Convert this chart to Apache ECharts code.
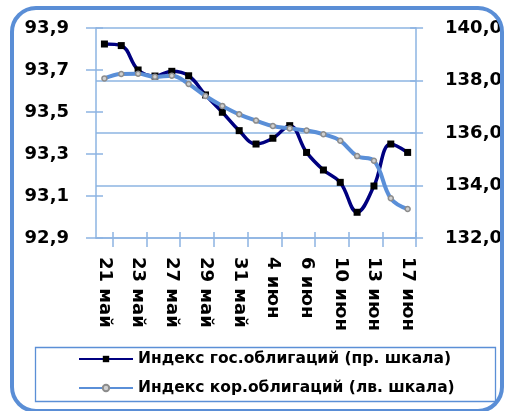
<!DOCTYPE html>
<html>
<head>
<meta charset="utf-8">
<script src="https://cdn.jsdelivr.net/npm/echarts@6/dist/echarts.min.js"></script>
<style>
html,body{margin:0;padding:0;background:#fff;}
#chart{width:505px;height:411px;}
</style>
</head>
<body>
<div id="chart"></div>
<script>
// Data
const categories = ['21 май','22 май','23 май','24 май','27 май','28 май','29 май','30 май','31 май','3 июн','4 июн','5 июн','6 июн','7 июн','10 июн','11 июн','13 июн','14 июн','17 июн'];
const govBonds = [139.39,139.33,138.40,138.17,138.35,138.18,137.45,136.79,136.09,135.58,135.80,136.28,135.26,134.59,134.12,132.98,133.98,135.58,135.26];
const corpBonds = [93.660,93.681,93.682,93.668,93.673,93.633,93.576,93.529,93.489,93.459,93.433,93.422,93.412,93.394,93.363,93.290,93.268,93.089,93.038];
const govName = 'Индекс гос.облигаций (пр. шкала)';
const corpName = 'Индекс кор.облигаций (лв. шкала)';
const leftAxis = {min: 92.9, max: 93.9, interval: 0.2};
const rightAxis = {min: 132, max: 140, interval: 2};

const FONT = 'DejaVu Sans';
const gridColor = '#8db4e2';
const fmt = v => Number(v).toFixed(1).replace('.', ',');

const chart = echarts.init(document.getElementById('chart'), null, {renderer: 'canvas'});
const grid = {left: 96, right: 87, top: 28, height: 210};
const baseX = {
  type: 'category', data: categories, boundaryGap: true, gridIndex: 0
};
chart.setOption({
  animation: false,
  backgroundColor: '#fff',
  grid: grid,
  xAxis: [
    Object.assign({}, baseX, {
      position: 'bottom',
      axisLine: {show: true, lineStyle: {color: gridColor, width: 1.5}},
      axisTick: {show: true, length: 9, interval: i => i % 2 === 1, lineStyle: {color: gridColor, width: 1.5}},
      axisLabel: {interval: 1, rotate: -90, margin: 19, color: '#000', fontFamily: FONT, fontWeight: 'bold', fontSize: 18},
      splitLine: {show: false}
    }),
    Object.assign({}, baseX, {
      position: 'bottom',
      axisLine: {show: false},
      axisTick: {show: true, inside: true, length: 6, interval: i => i % 2 === 1, lineStyle: {color: gridColor, width: 1.5}},
      axisLabel: {show: false},
      splitLine: {show: false}
    })
  ],
  yAxis: [
    {
      type: 'value', position: 'left', min: leftAxis.min, max: leftAxis.max, interval: leftAxis.interval,
      axisLine: {show: true, lineStyle: {color: gridColor, width: 1.5}},
      axisTick: {show: true, length: 10, lineStyle: {color: gridColor, width: 1.5}},
      axisLabel: {formatter: fmt, margin: 27, color: '#000', fontFamily: FONT, fontWeight: 'bold', fontSize: 18},
      splitLine: {show: false}
    },
    {
      type: 'value', position: 'right', min: rightAxis.min, max: rightAxis.max, interval: rightAxis.interval,
      axisLine: {show: true, lineStyle: {color: gridColor, width: 1.5}},
      axisTick: {show: true, length: 7, lineStyle: {color: gridColor, width: 1.5}},
      axisLabel: {formatter: fmt, margin: 29, color: '#000', fontFamily: FONT, fontWeight: 'bold', fontSize: 18},
      splitLine: {show: true, lineStyle: {color: gridColor, width: 1.5}}
    },
    {
      type: 'value', position: 'left', min: leftAxis.min, max: leftAxis.max, interval: leftAxis.interval,
      axisLine: {show: false},
      axisTick: {show: true, inside: true, length: 7, lineStyle: {color: gridColor, width: 1.5}},
      axisLabel: {show: false}, splitLine: {show: false}
    },
    {
      type: 'value', position: 'right', min: rightAxis.min, max: rightAxis.max, interval: rightAxis.interval,
      axisLine: {show: false},
      axisTick: {show: true, inside: true, length: 6, lineStyle: {color: gridColor, width: 1.5}},
      axisLabel: {show: false}, splitLine: {show: false}
    }
  ],
  legend: {
    orient: 'vertical', left: 78, top: 350, itemWidth: 54, itemHeight: 8, itemGap: 11,
    padding: 0,
    textStyle: {color: '#000', fontFamily: FONT, fontWeight: 'bold', fontSize: 15.5, lineHeight: 18},
    data: [govName, corpName]
  },
  series: [
    {
      name: govName, type: 'line', xAxisIndex: 0, yAxisIndex: 1, data: govBonds,
      smooth: 0.4, symbol: 'rect', symbolSize: 7,
      lineStyle: {color: '#000080', width: 3.5},
      itemStyle: {color: '#000000'},
      z: 2
    },
    {
      name: corpName, type: 'line', xAxisIndex: 0, yAxisIndex: 0, data: corpBonds,
      smooth: 0.4, symbol: 'circle', symbolSize: 5,
      lineStyle: {color: '#5a8fd8', width: 4},
      itemStyle: {color: '#d0d0d0', borderColor: '#8c8c8c', borderWidth: 1.5},
      z: 3
    }
  ],
  graphic: [
    {type: 'rect', left: 33, top: 345, shape: {x: 0, y: 0, width: 460, height: 54}, style: {fill: null, stroke: '#5b8fd6', lineWidth: 1.3}, z: 10, silent: true},
    {type: 'rect', shape: {x: 12, y: 8, width: 490, height: 403, r: 24}, style: {fill: null, stroke: '#5a8ed6', lineWidth: 4}, z: 20, silent: true}
  ]
});
</script>
</body>
</html>
